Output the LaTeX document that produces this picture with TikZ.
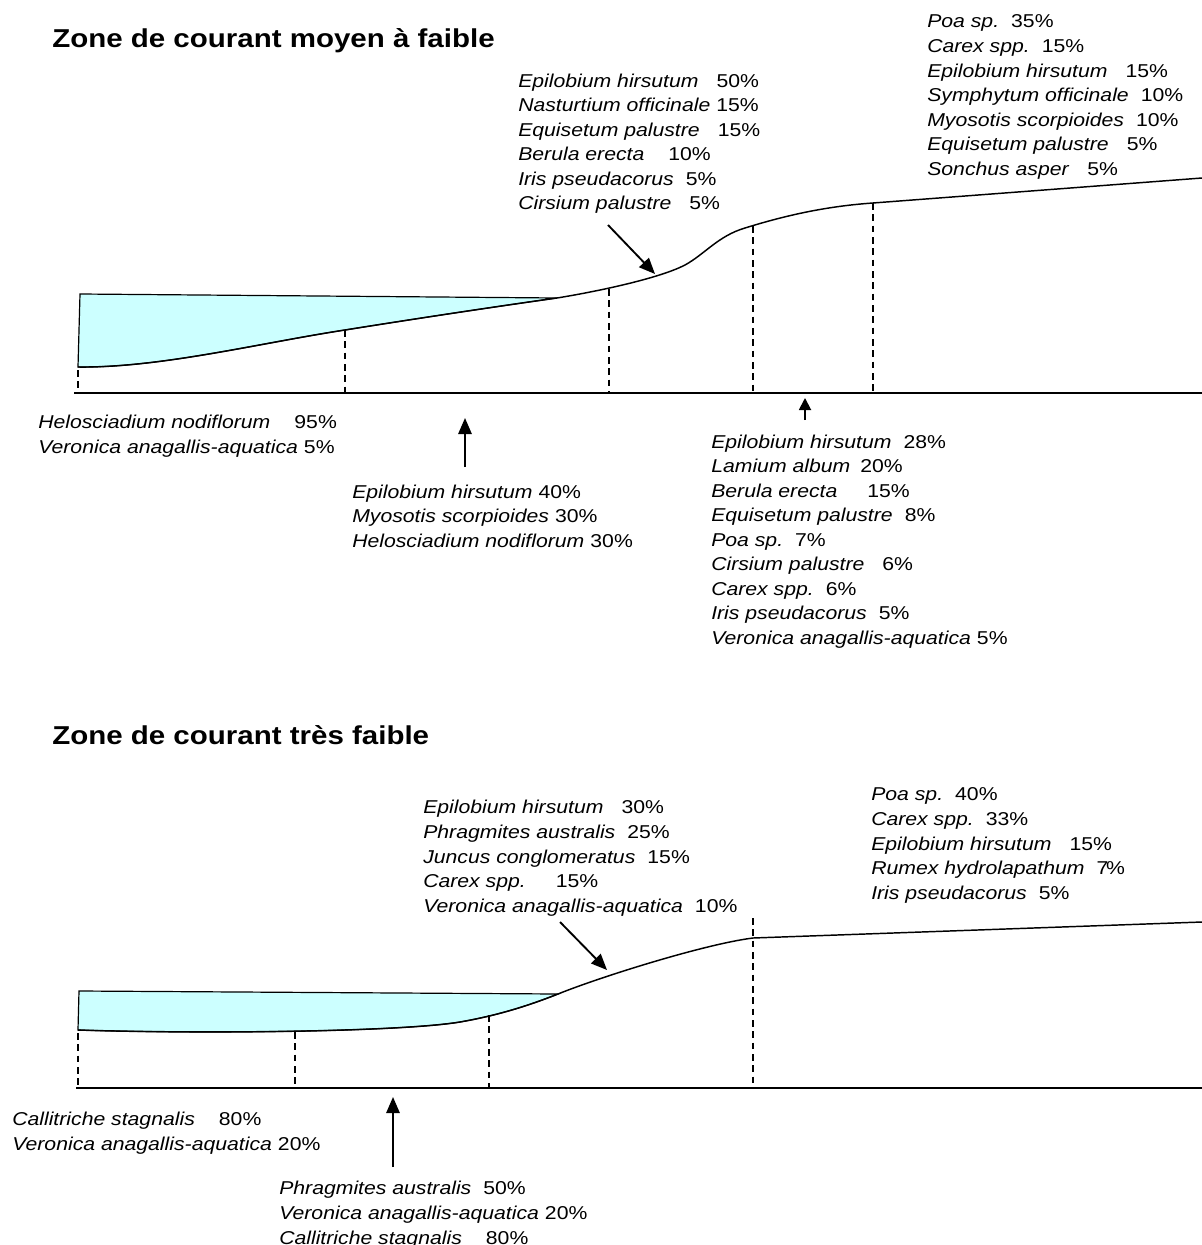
\documentclass[tikz,border=0pt]{standalone}
\usepackage{fontspec}
\setmainfont[FakeStretch=1.14]{Liberation Sans}
\usetikzlibrary{arrows.meta}
\definecolor{watercol}{RGB}{204,255,255}
\newcommand\gp[1]{\hspace{\dimexpr #1pt*3/4\relax}}
\newcommand\sn[1]{\textit{#1}}
\begin{document}
\begin{tikzpicture}[x=0.75pt,y=-0.75pt,
  lbl/.style={anchor=base west, inner sep=0pt, align=left, font=\fontsize{13.95}{18.4}\selectfont},
  ttl/.style={anchor=base west, inner sep=0pt, font=\fontsize{19.4}{22}\selectfont\bfseries},
  bed/.style={line width=1.1pt},
  gnd/.style={line width=1.3pt},
  dsh/.style={line width=0.9pt, dash pattern=on 5pt off 3.5pt},
  water/.style={fill=watercol, draw=black, line width=0.9pt},
  arr/.style={line width=1.4pt, -{Triangle[length=12pt,width=10pt]}},
  arrs/.style={line width=1.4pt, -{Triangle[length=9pt,width=9pt]}}
]
\useasboundingbox (0,0) rectangle (1202,1245);

% ---------- top diagram ----------
\node[ttl] (t1) at (52,48) {Zone de courant moyen à faible};

\filldraw[water] (80,294) -- (557,298) .. controls (500,306) and (420,318) .. (345,330)
  .. controls (260,343) and (160,368) .. (78,367) -- cycle;
\draw[bed] (78,367) .. controls (160,368) and (260,343) .. (345,330)
  .. controls (420,318) and (500,306) .. (557,298)
  .. controls (600,291) and (660,278) .. (685,265)
  .. controls (705,254) and (718,236) .. (745,228)
  .. controls (790,214) and (830,206) .. (873,203) -- (1202,178);
\draw[gnd] (74,393) -- (1202,393);
\draw[dsh] (78,370) -- (78,393);
\draw[dsh] (345,330) -- (345,393);
\draw[dsh] (609,289) -- (609,393);
\draw[dsh] (753,226) -- (753,393);
\draw[dsh] (873,203) -- (873,393);

% labels: anchor is the baseline of the LAST line
\node[lbl] (a) at (518,209.7) {\sn{Epilobium hirsutum}\gp{18}50\%\\
\sn{Nasturtium officinale}\gp{6}15\%\\
\sn{Equisetum palustre}\gp{18}15\%\\
\sn{Berula erecta}\gp{24}10\%\\
\sn{Iris pseudacorus}\gp{12}5\%\\
\sn{Cirsium palustre}\gp{18}5\%};

\node[lbl] (b) at (927,175.2) {\sn{Poa sp.}\gp{12}35\%\\
\sn{Carex spp.}\gp{12}15\%\\
\sn{Epilobium hirsutum}\gp{18}15\%\\
\sn{Symphytum officinale}\gp{12}10\%\\
\sn{Myosotis scorpioides}\gp{12}10\%\\
\sn{Equisetum palustre}\gp{18}5\%\\
\sn{Sonchus asper}\gp{18}5\%};

\node[lbl] (c) at (38,453.5) {\sn{Helosciadium nodiflorum}\gp{24}95\%\\
\sn{Veronica anagallis-aquatica}\gp{6}5\%};

\node[lbl] (d) at (352,547.1) {\sn{Epilobium hirsutum}\gp{6}40\%\\
\sn{Myosotis scorpioides}\gp{6}30\%\\
\sn{Helosciadium nodiflorum}\gp{6}30\%};

\node[lbl] (e) at (711,644.3) {\sn{Epilobium hirsutum}\gp{12}28\%\\
\sn{Lamium album}\gp{10}20\%\\
\sn{Berula erecta}\gp{30}15\%\\
\sn{Equisetum palustre}\gp{12}8\%\\
\sn{Poa sp.}\gp{12}7\%\\
\sn{Cirsium palustre}\gp{18}6\%\\
\sn{Carex spp.}\gp{12}6\%\\
\sn{Iris pseudacorus}\gp{12}5\%\\
\sn{Veronica anagallis-aquatica}\gp{6}5\%};

\coordinate (a1) at (608,225);
\coordinate (a2) at (655,274);
\draw[arr] (a1) -- (a2);
\coordinate (d1) at (465,467);
\coordinate (d2) at (465,418);
\draw[arr] (d1) -- (d2);
\coordinate (e1) at (805,420);
\coordinate (e2) at (805,398);
\draw[arrs] (e1) -- (e2);

% ---------- bottom diagram ----------
\node[ttl] (t2) at (52,744) {Zone de courant très faible};

\filldraw[water] (79,991) -- (558,994) .. controls (530,1005) and (500,1015) .. (460,1022)
  .. controls (400,1032) and (200,1034) .. (78,1030) -- cycle;
\draw[bed] (78,1030) .. controls (200,1034) and (400,1032) .. (460,1022)
  .. controls (500,1015) and (530,1005) .. (558,994)
  .. controls (600,977) and (705,944) .. (753,938) -- (1202,922);
\draw[gnd] (76,1088) -- (1202,1088);
\draw[dsh] (78,1033) -- (78,1088);
\draw[dsh] (295,1032) -- (295,1088);
\draw[dsh] (489,1015) -- (489,1088);
\draw[dsh] (753,918) -- (753,1088);

\node[lbl] (f) at (423,912.1) {\sn{Epilobium hirsutum}\gp{18}30\%\\
\sn{Phragmites australis}\gp{12}25\%\\
\sn{Juncus conglomeratus}\gp{12}15\%\\
\sn{Carex spp.}\gp{30}15\%\\
\sn{Veronica anagallis-aquatica}\gp{12}10\%};

\node[lbl] (g) at (871,899.1) {\sn{Poa sp.}\gp{12}40\%\\
\sn{Carex spp.}\gp{12}33\%\\
\sn{Epilobium hirsutum}\gp{18}15\%\\
\sn{Rumex hydrolapathum}\gp{12}7\kern-0.12em\%\\
\sn{Iris pseudacorus}\gp{12}5\%};

\node[lbl] (h) at (12,1150.5) {\sn{Callitriche stagnalis}\gp{24}80\%\\
\sn{Veronica anagallis-aquatica}\gp{6}20\%};

\node[lbl] (k) at (279,1244) {\sn{Phragmites australis}\gp{12}50\%\\
\sn{Veronica anagallis-aquatica}\gp{6}20\%\\
\sn{Callitriche stagnalis}\gp{24}80\%};

\coordinate (f1) at (560,922);
\coordinate (f2) at (607,970);
\draw[arr] (f1) -- (f2);
\coordinate (k1) at (393,1167);
\coordinate (k2) at (393,1097);
\draw[arr] (k1) -- (k2);
\end{tikzpicture}
\end{document}
